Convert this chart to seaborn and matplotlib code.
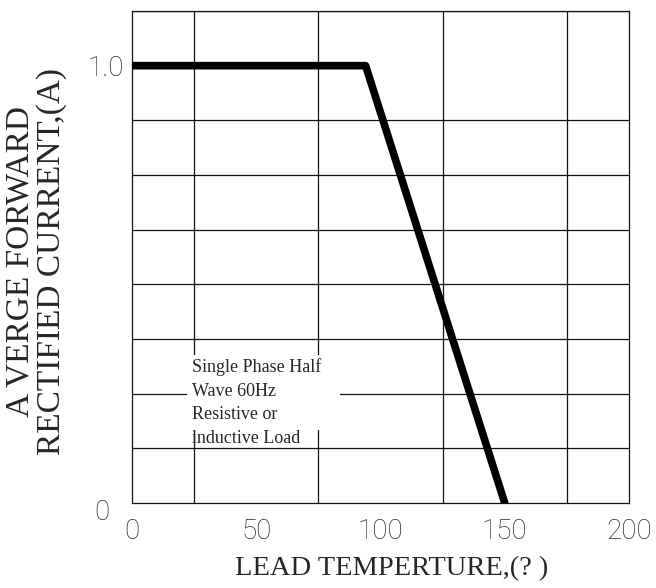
import numpy as np
import pandas as pd
import matplotlib
matplotlib.use("Agg")
import matplotlib.pyplot as plt
import matplotlib.transforms as mtrans
from matplotlib.patches import Rectangle
import seaborn as sns

# derating curve
temp    = [0, 94, 150]
current = [1.0, 1.0, 0.0]

x_ticks  = [0, 50, 100, 150, 200]
y_ticks  = [0, 1.0]
y_labels = ["0", "1.0"]

note = "Single Phase Half\nWave 60Hz\nResistive or\ninductive Load"

sns.set_theme(style="white")
plt.rcParams["font.family"] = ["DejaVu Sans"]

fig = plt.figure(figsize=(6.56, 5.88), dpi=100)
ax = fig.add_axes([132/656, 1 - 503/588, 497/656, 492/588])

df = pd.DataFrame({"temp": temp, "current": current})
sns.lineplot(data=df, x="temp", y="current", ax=ax, color="black",
             linewidth=5.5, solid_capstyle="round", zorder=5)

ax.set_xlim(0, 200)
ax.set_ylim(0, 1.125)

# grid: 8 columns x 9 rows
ax.set_xticks(np.arange(0, 201, 25), minor=True)
ax.set_yticks(np.arange(0, 1.126, 0.125), minor=True)
ax.grid(which="minor", color="#111111", linewidth=0.9)
ax.set_axisbelow(True)

ax.set_xticks(x_ticks)
ax.set_xticklabels([str(v) for v in x_ticks])
ax.set_yticks(y_ticks)
ax.set_yticklabels(y_labels)
ax.tick_params(which="both", length=0)
ax.tick_params(axis="x", pad=11)
ax.tick_params(axis="y", pad=6)
for lab in ax.get_xticklabels() + ax.get_yticklabels():
    lab.set_fontfamily("Roboto")
    lab.set_fontweight("light")
    lab.set_fontsize(20)
    lab.set_color("#2a2a2a")

# the "0" on the y axis sits lower and further left
ylab0 = ax.get_yticklabels()[0]
ylab0.set_transform(ylab0.get_transform() +
                    mtrans.ScaledTranslation(-14/100, -6/100, fig.dpi_scale_trans))

for s in ax.spines.values():
    s.set_color("#111111")
    s.set_linewidth(0.9)

# white patch behind the note
ax.add_patch(Rectangle((22.1, 0.167), 61.6, 0.171, facecolor="white",
                       edgecolor="none", zorder=3))
ax.text(24, 0.331, note, fontsize=13, family="Liberation Serif",
        va="top", ha="left", linespacing=1.5, zorder=4)

ax.set_xlabel("LEAD TEMPERTURE,(? )", fontsize=20.5, family="Liberation Serif")
ax.xaxis.set_label_coords(0.523, -0.107)
ax.set_ylabel("A VERGE FORWARD\nRECTIFIED CURRENT,(A)", fontsize=24,
              family="Liberation Serif", linespacing=1.05)
ax.yaxis.set_label_coords(-0.13, 0.49)

fig.savefig("out.png", dpi=100)
